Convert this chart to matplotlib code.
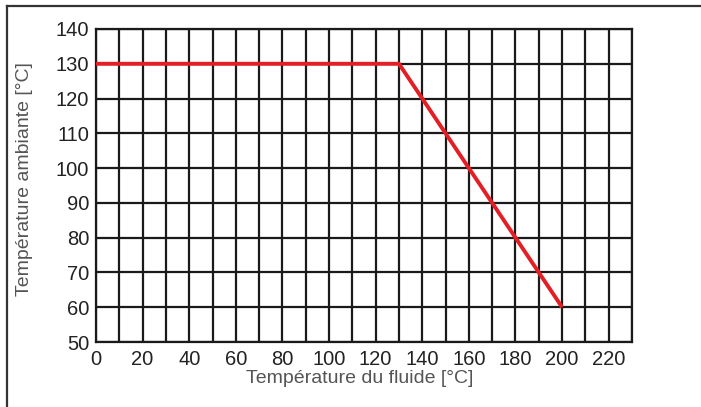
import matplotlib
matplotlib.use("Agg")
import matplotlib.pyplot as plt
from matplotlib.lines import Line2D
import numpy as np

fluid_temp = [0, 130, 200]
ambient_temp = [130, 130, 60]
x_ticks = [0, 20, 40, 60, 80, 100, 120, 140, 160, 180, 200, 220]
y_ticks = [50, 60, 70, 80, 90, 100, 110, 120, 130, 140]

plt.rcParams['font.family'] = ['Liberation Sans', 'DejaVu Sans']

fig = plt.figure(figsize=(7.01, 4.07), dpi=100)
ax = fig.add_axes([96/701, 1 - 342/407, (632-96)/701, (342-29)/407])

ax.set_xlim(0, 230)
ax.set_ylim(50, 140)
ax.set_xticks(x_ticks)
ax.set_yticks(y_ticks)
ax.set_xticks(np.arange(0, 231, 10), minor=True)
ax.grid(True, which='both', axis='x', color='#1a1a1a', linewidth=1.6)
ax.grid(True, which='major', axis='y', color='#1a1a1a', linewidth=1.6)
ax.tick_params(which='both', length=0, labelsize=14.5, colors='#222222')
ax.tick_params(axis='x', pad=6)
ax.tick_params(axis='y', pad=5)
for s in ax.spines.values():
    s.set_color('#1a1a1a')
    s.set_linewidth(1.6)

ax.plot(fluid_temp, ambient_temp, color='#e31e24', linewidth=2.8, solid_capstyle='butt', zorder=5)

ax.set_xlabel('Température du fluide [°C]', fontsize=14, color='#555555')
ax.set_ylabel('Température ambiante [°C]', fontsize=14, color='#555555')
ax.xaxis.set_label_coords(0.4925, -0.09)
ax.yaxis.set_label_coords(-0.1175, 0.519)

fig.add_artist(Line2D([7/701, 7/701], [0, 1 - 6/407], transform=fig.transFigure, color='#333333', linewidth=1.6))
fig.add_artist(Line2D([7/701, 1], [1 - 6/407, 1 - 6/407], transform=fig.transFigure, color='#333333', linewidth=1.6))

fig.savefig('out.png', dpi=100)
